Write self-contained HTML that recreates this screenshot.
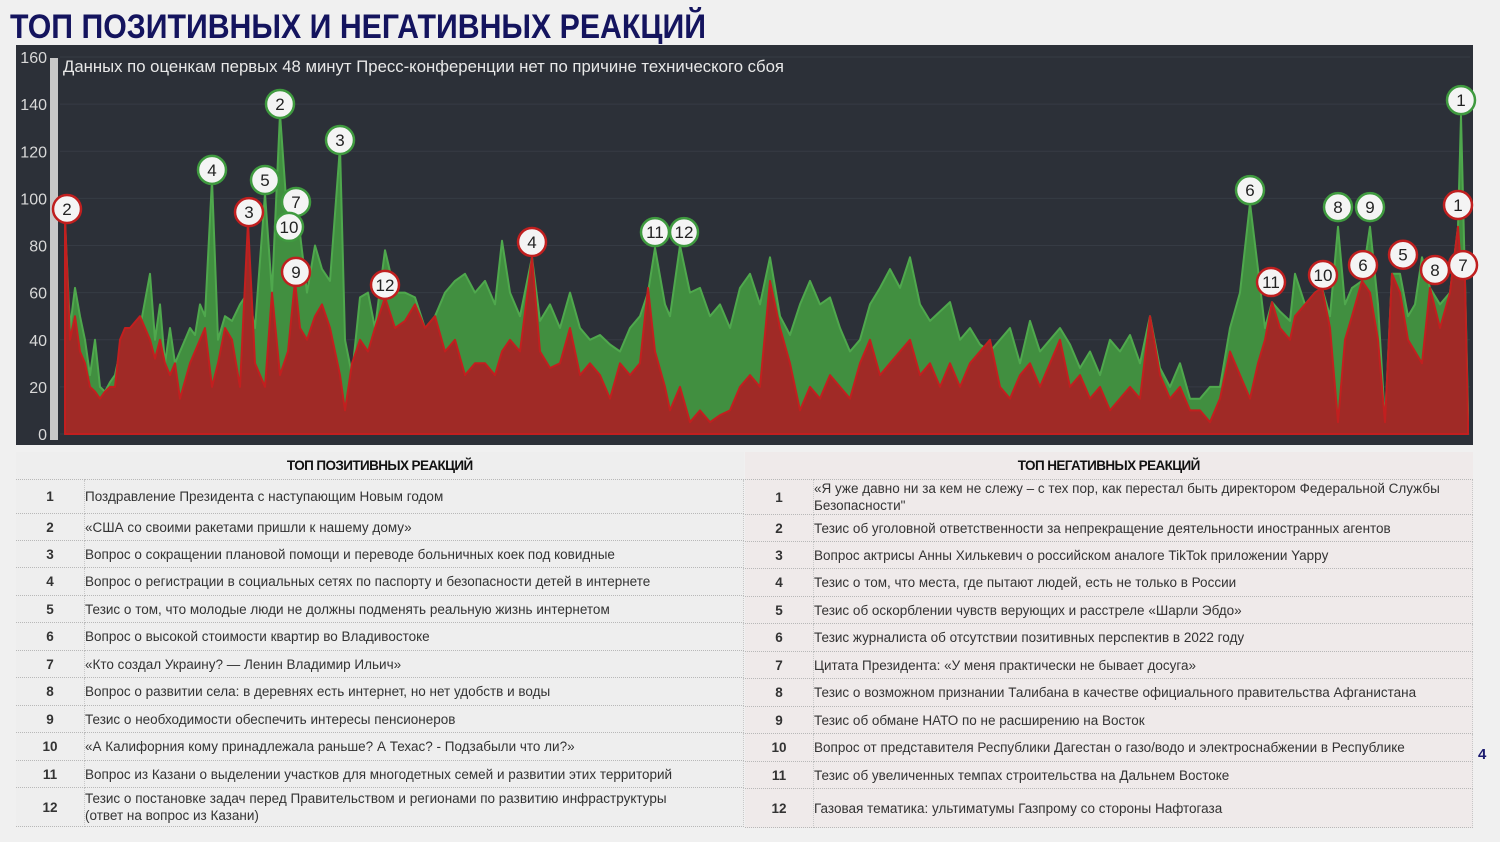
<!DOCTYPE html>
<html><head><meta charset="utf-8">
<style>
html,body{margin:0;padding:0;width:1500px;height:842px;overflow:hidden;background:#f0f0f0;font-family:"Liberation Sans",sans-serif;}
#title{position:absolute;left:0;top:0;}
#chart{position:absolute;left:0;top:0;}
table{position:absolute;border-collapse:collapse;font-size:13.5px;color:#333;}
td{border-bottom:1px dotted #b8b8b8;border-right:1px dotted #c8c8c8;padding:0;vertical-align:middle;line-height:17px;}
td.n{text-align:center;font-weight:bold;width:68px;}
th{font-size:13.5px;font-weight:bold;height:25px;border-bottom:1px dotted #b8b8b8;letter-spacing:-0.6px;color:#111;}
#tl{left:16px;top:452px;width:728px;background:#eeeeee;}
#tr{left:745px;top:452px;width:728px;background:#efeaea;}
#pg{position:absolute;left:1478px;top:746px;font-weight:bold;color:#1a1a6e;font-size:15px;}
</style></head><body>
<svg id="title" width="720" height="44"><text x="10" y="38" textLength="696" lengthAdjust="spacingAndGlyphs" font-family="Liberation Sans" font-weight="bold" font-size="34" fill="#14145e">ТОП ПОЗИТИВНЫХ И НЕГАТИВНЫХ РЕАКЦИЙ</text></svg>
<svg id="chart" width="1500" height="450"></svg>

<table id="tl">
<tr><th colspan="2">ТОП ПОЗИТИВНЫХ РЕАКЦИЙ</th></tr>
<tr style="height:34px"><td class="n">1</td><td>Поздравление Президента с наступающим Новым годом</td></tr>
<tr style="height:27px"><td class="n">2</td><td>«США со своими ракетами пришли к нашему дому»</td></tr>
<tr style="height:27px"><td class="n">3</td><td>Вопрос о сокращении плановой помощи и переводе больничных коек под ковидные</td></tr>
<tr style="height:28px"><td class="n">4</td><td>Вопрос о регистрации в социальных сетях по паспорту и безопасности детей в интернете</td></tr>
<tr style="height:27px"><td class="n">5</td><td>Тезис о том, что молодые люди не должны подменять реальную жизнь интернетом</td></tr>
<tr style="height:28px"><td class="n">6</td><td>Вопрос о высокой стоимости квартир во Владивостоке</td></tr>
<tr style="height:27px"><td class="n">7</td><td>«Кто создал Украину? — Ленин Владимир Ильич»</td></tr>
<tr style="height:28px"><td class="n">8</td><td>Вопрос о развитии села: в деревнях есть интернет, но нет удобств и воды</td></tr>
<tr style="height:27px"><td class="n">9</td><td>Тезис о необходимости обеспечить интересы пенсионеров</td></tr>
<tr style="height:28px"><td class="n">10</td><td>«А Калифорния кому принадлежала раньше? А Техас? - Подзабыли что ли?»</td></tr>
<tr style="height:27px"><td class="n">11</td><td>Вопрос из Казани о выделении участков для многодетных семей и развитии этих территорий</td></tr>
<tr style="height:39px"><td class="n">12</td><td>Тезис о постановке задач перед Правительством и регионами по развитию инфраструктуры<br>(ответ на вопрос из Казани)</td></tr>
</table>

<table id="tr">
<tr><th colspan="2">ТОП НЕГАТИВНЫХ РЕАКЦИЙ</th></tr>
<tr style="height:34px"><td class="n">1</td><td>«Я уже давно ни за кем не слежу – с тех пор, как перестал быть директором Федеральной Службы Безопасности"</td></tr>
<tr style="height:27px"><td class="n">2</td><td>Тезис об уголовной ответственности за непрекращение деятельности иностранных агентов</td></tr>
<tr style="height:27px"><td class="n">3</td><td>Вопрос актрисы Анны Хилькевич о российском аналоге TikTok приложении Yappy</td></tr>
<tr style="height:28px"><td class="n">4</td><td>Тезис о том, что места, где пытают людей, есть не только в России</td></tr>
<tr style="height:27px"><td class="n">5</td><td>Тезис об оскорблении чувств верующих и расстреле «Шарли Эбдо»</td></tr>
<tr style="height:28px"><td class="n">6</td><td>Тезис журналиста об отсутствии позитивных перспектив в 2022 году</td></tr>
<tr style="height:27px"><td class="n">7</td><td>Цитата Президента: «У меня практически не бывает досуга»</td></tr>
<tr style="height:28px"><td class="n">8</td><td>Тезис о возможном признании Талибана в качестве официального правительства Афганистана</td></tr>
<tr style="height:27px"><td class="n">9</td><td>Тезис об обмане НАТО по не расширению на Восток</td></tr>
<tr style="height:28px"><td class="n">10</td><td>Вопрос от представителя Республики Дагестан о газо/водо и электроснабжении в Республике</td></tr>
<tr style="height:27px"><td class="n">11</td><td>Тезис об увеличенных темпах строительства на Дальнем Востоке</td></tr>
<tr style="height:39px"><td class="n">12</td><td>Газовая тематика: ультиматумы Газпрому со стороны Нафтогаза</td></tr>
</table>
<div id="pg">4</div>

<script>
// time (minutes from chart start), positive and negative reaction counts
const minutes=[0,0.5,1,1.5,2,2.5,3,3.5,4,4.5,5,5.5,6,6.5,7.5,8.5,9,9.5,10,10.5,11,11.5,12.5,13,13.5,14,14.7,15.3,16,16.7,17.5,18.3,19,20,20.7,21.5,22.3,23,23.5,24.2,25,25.7,26.5,27.5,28,28.7,29.5,30.3,31,32,33,34,35,36,37,38,39,40,41,42,43,43.7,44.5,45.5,46.7,47.5,48.5,49.5,50.5,51.5,52.5,53.5,54.5,55.5,56.5,57.5,58.3,59,60,60.5,61.5,62.5,63.5,64.5,65.5,66.5,67.5,68.5,69.5,70.5,71.5,72.5,73.5,74.5,75.5,76.5,77.5,78.5,79.5,80.5,81.5,82.5,83.5,84.5,85.5,86.5,87.5,88.5,89.5,90.5,91.5,92.5,93.5,94.5,95.5,96.5,97.5,98.5,99.5,100.5,101.5,102.5,103.5,104.5,105.5,106.5,107.5,108.5,109.5,110.5,111.5,112.5,113.5,114.5,115.5,116.5,117.5,118.5,119.3,120,120.7,121.5,122.5,123,124,125,125.7,126.5,127.3,128,128.7,129.7,130.5,131.3,132,132.7,133.5,134.3,135,135.7,136.5,137.5,138.5,139.3,139.6,140,140.3];
const positive=[90,45,62,50,40,25,40,20,18,22,25,35,40,30,45,68,40,55,30,45,30,35,45,42,55,50,108,40,50,48,55,60,45,102,60,136,88,95,85,60,80,70,65,122,40,25,58,60,45,78,60,60,58,45,50,60,65,68,60,65,55,82,60,50,75,48,55,45,60,45,40,42,38,35,45,50,60,79,55,50,80,60,62,50,55,45,62,68,55,75,50,42,55,65,55,58,45,35,40,55,62,70,62,75,55,48,52,56,40,45,38,35,40,45,30,48,35,40,45,38,28,35,25,40,35,42,30,50,28,20,30,15,15,20,20,45,60,98,70,45,56,52,48,68,55,60,62,50,88,55,62,65,88,55,5,68,68,50,55,75,62,55,60,88,135,65,10];
const negative=[92,40,50,35,30,20,18,15,18,20,20,40,45,45,50,40,32,40,30,25,30,15,30,35,40,45,20,30,45,40,20,90,30,20,60,25,35,65,45,40,50,55,45,25,10,30,40,35,45,58,45,48,55,45,50,35,40,25,30,30,25,35,40,35,75,35,28,30,45,25,30,25,15,30,25,30,62,35,20,10,20,5,10,5,8,10,20,25,20,65,45,30,10,20,15,25,20,15,30,40,25,30,35,40,25,30,20,30,20,30,35,40,20,15,25,30,20,30,40,20,25,15,20,10,15,20,15,50,25,15,20,10,10,5,15,35,25,15,30,40,56,45,40,50,55,60,62,45,5,40,50,65,60,40,5,68,60,40,35,30,62,45,60,88,70,65,5];
// labelled peaks
const pmT=[139.6,21.5,27.5,14.7,20.0,118.5,23.1,127.3,130.5,22.4,59,61.9];
const pmV=[136.6,135,119.7,107,102.7,98.4,93.4,91.2,91.2,82.8,80.6,80.6];
const pmL=["1","2","3","4","5","6","7","8","9","10","11","12"];
const nmT=[139.3,0.2,18.4,46.7,133.8,129.8,139.8,137.0,23.1,125.8,120.6,32];
const nmV=[92.1,90.4,89.1,76.4,71,66.6,66.6,64.5,63.7,62.4,59.4,58.2];
const nmL=["1","2","3","4","5","6","7","8","9","10","11","12"];
const yTicks=[0,20,40,60,80,100,120,140,160];
</script>
<script>
const NS="http://www.w3.org/2000/svg";
const svg=document.getElementById('chart');
const X=t=>65+t*10, Y=v=>434-v*2.356;
function mk(tag,attrs,parent){const e=document.createElementNS(NS,tag);for(const k in attrs)e.setAttribute(k,attrs[k]);(parent||svg).appendChild(e);return e;}
let bg=mk('rect',{x:16,y:45,width:1457,height:400,fill:'#2c3038'});


let bar=mk('rect',{x:50,y:58,width:8,height:382,fill:'#c8c8c8'});


yTicks.forEach(v=>{
  let g=mk('line',{x1:60,x2:1470,y1:Y(v),y2:Y(v),stroke:'#363b44','stroke-width':1});
  
  
  let t=mk('text',{x:47,y:Y(v)+6,'text-anchor':'end','font-size':16,fill:'#d8d8d8','font-family':'Liberation Sans'});
  t.textContent=v;
  
  
});
function area(vals,fill,stroke){
  const n=Math.min(vals.length,minutes.length);
  let d='M'+X(minutes[0])+','+Y(0);
  for(let i=0;i<n;i++){d+=' L'+X(minutes[i]).toFixed(1)+','+Y(vals[i]).toFixed(1);}
  d+=' L'+X(minutes[n-1])+','+Y(0)+' Z';
  return mk('path',{d:d,fill:fill,stroke:stroke,'stroke-width':2,'stroke-linejoin':'round'});
}
let ga=area(positive,'#418f40','#4fa84d');


let ra=area(negative,'#a02a26','#c21f1f');


let note=mk('text',{x:63,y:72,'font-size':17,fill:'#e8e8e8','font-family':'Liberation Sans',textLength:721,lengthAdjust:'spacingAndGlyphs'});
note.textContent='Данных по оценкам первых 48 минут Пресс-конференции нет по причине технического сбоя';


function markers(T,V,L,col,name){
  T.forEach((t,i)=>{
    const cx=X(t), cy=Y(V[i])-12;
    let c=mk('circle',{cx:cx,cy:cy,r:14,fill:'#f4f4f4',stroke:col,'stroke-width':2.5});
    
    
    let tx=mk('text',{x:cx,y:cy+6,'text-anchor':'middle','font-size':17,fill:'#222','font-family':'Liberation Sans'});
    tx.textContent=L[i];
    
    
  });
}
markers(pmT,pmV,pmL,'#3f9a3f','positive-marker');
markers(nmT,nmV,nmL,'#c01f1f','negative-marker');
</script>
</body></html>
